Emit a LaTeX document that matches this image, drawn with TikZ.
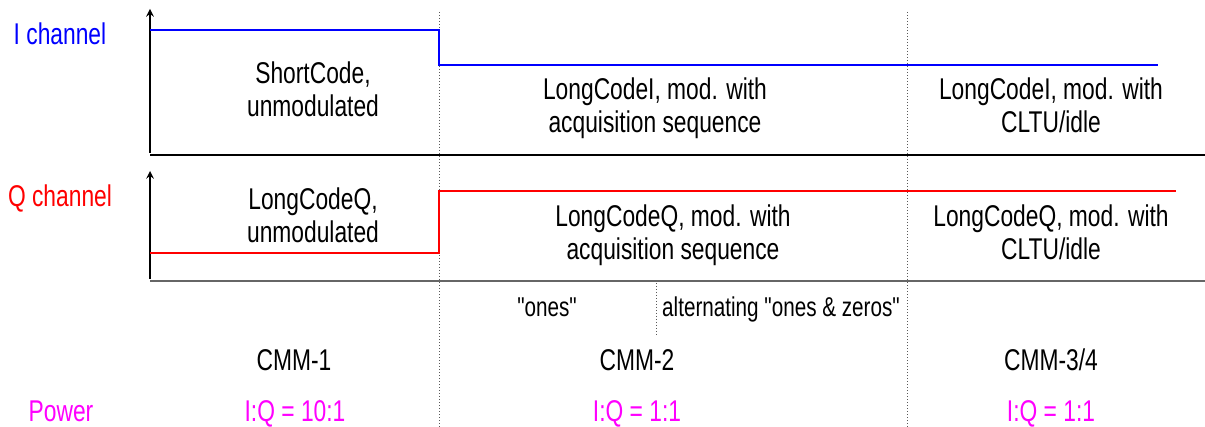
\documentclass[tikz,border=0pt]{standalone}
\usepackage{fontspec}
\setmainfont{Liberation Sans}[FakeStretch=0.76, Ligatures=TeXOff]
\usetikzlibrary{arrows, positioning}
\definecolor{powercol}{RGB}{255,0,255}
\definecolor{ichcol}{RGB}{0,0,255}
\definecolor{qchcol}{RGB}{255,0,0}

\begin{document}
\begin{tikzpicture}[
    x=0.5pt, y=-0.5pt,
    txt/.style={align=center, inner sep=0pt, font=\fontsize{15}{16.5}\selectfont},
    oneline/.style={txt, anchor=base},
    note/.style={oneline, font=\fontsize{13.6}{15}\selectfont},
    power/.style={oneline, text=powercol},
    axis/.style={->, line width=0.7pt, >=stealth},
    baseline/.style={line width=0.75pt},
    signal/.style={line width=1pt},
    divider/.style={densely dotted, line width=0.5pt, black!65}
]
\useasboundingbox (0,0) rectangle (1205,427);

% Channel names
\node[oneline, text=ichcol] (ich) at (60,45) {I channel};
\node[oneline, text=qchcol] (qch) at (60,207) {Q channel};
\node[power] (pow) at (61,421) {Power};

% Axes
\coordinate (iorg) at (150,155);
\coordinate (qorg) at (150,281);
\draw[baseline] (iorg) -- (1205,155);
\draw[baseline, black!60, line width=1pt] (qorg) -- (1205,281);
\draw[axis] ([yshift=1pt]iorg) -- (150,9);
\draw[axis] ([yshift=1pt]qorg) -- (150,171);

% Mode boundaries
\draw[divider] (439,12) -- (439,427);
\draw[divider] (907,12) -- (907,427);
\draw[divider] (656,283) -- (656,335);

% I channel level
\draw[signal, ichcol] (150,30) -- (439,30) -- (439,65) -- (1158,65);
% Q channel level
\draw[signal, qchcol] (150,253) -- (439,253) -- (439,191) -- (1176,191);

% CMM-1
\node[txt] (ishort) at (313,89.5) {ShortCode,\\unmodulated};
\node[txt] (qlong1) at (313,215) {LongCodeQ,\\unmodulated};
\node[oneline] (cmm1) at (294,371) {CMM-1};
\node[power] (pw1) at (295,421) {I:Q = 10:1};

% CMM-2
\node[txt] (iacq) at (655,108.5) {LongCodeI, mod. with\\acquisition sequence};
\node[txt] (qacq) at (673,235) {LongCodeQ, mod. with\\acquisition sequence};
\node[note] (ones) at (547,317) {"ones"};
\node[note] (alt) at (781,317) {alternating "ones \& zeros"};
\node[oneline] (cmm2) at (637,371) {CMM-2};
\node[power] (pw2) at (637,421) {I:Q = 1:1};

% CMM-3/4
\node[txt] (icltu) at (1051,105.5) {LongCodeI, mod. with\\CLTU/idle};
\node[txt] (qcltu) at (1051,232.5) {LongCodeQ, mod. with\\CLTU/idle};
\node[oneline] (cmm3) at (1051,371) {CMM-3/4};
\node[power] (pw3) at (1051,421) {I:Q = 1:1};

\end{tikzpicture}
\end{document}
